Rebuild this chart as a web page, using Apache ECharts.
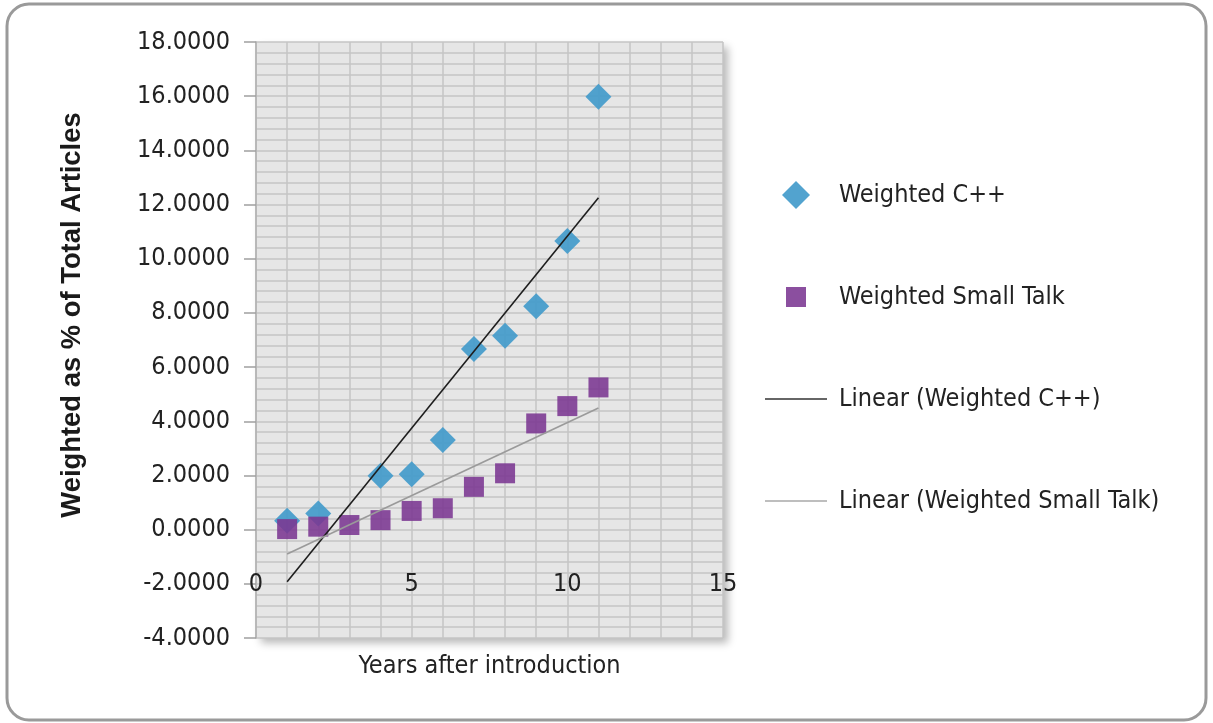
<!DOCTYPE html>
<html>
<head>
<meta charset="utf-8">
<script src="https://cdn.jsdelivr.net/npm/echarts@6/dist/echarts.min.js"></script>
<style>
  html, body { margin: 0; padding: 0; background: #ffffff; }
  #chart { width: 1213px; height: 723px; }
</style>
</head>
<body>
<div id="chart"></div>
<script>
// Years after each language's introduction
const cppYears = [1, 2, 4, 5, 6, 7, 8, 9, 10, 11];
const cppValues = [0.33, 0.60, 1.99, 2.04, 3.31, 6.67, 7.16, 8.25, 10.65, 15.98];

const smallTalkYears = [1, 2, 3, 4, 5, 6, 7, 8, 9, 10, 11];
const smallTalkValues = [0.02, 0.11, 0.17, 0.35, 0.69, 0.79, 1.58, 2.08, 3.92, 4.56, 5.25];

// Linear trendline end points (first and last year)
const trendYears = [1, 11];
const cppTrend = [-1.92, 12.25];
const smallTalkTrend = [-0.90, 4.49];

const seriesNames = ['Weighted C++', 'Weighted Small Talk', 'Linear (Weighted C++)', 'Linear (Weighted Small Talk)'];

const pairs = (xs, ys) => xs.map((x, i) => [x, ys[i]]);

const FONT = '"DejaVu Sans Condensed", "DejaVu Sans", Verdana, sans-serif';
const FONT_SIZE = 25;
const TEXT = '#222222';
const GRID_LINE = '#c5c5c5';

// Legend glyphs: square and diamond centred in a 28px box, thin bar for trendlines
const ICON_DIAMOND = 'path://M14,0L28,14L14,28L0,14Z';
const ICON_SQUARE = 'path://M0,0M28,28M4,4L24,4L24,24L4,24Z';
const ICON_LINE = 'path://M0,0L62,0L62,1.6L0,1.6Z';

const chart = echarts.init(document.getElementById('chart'), null, { renderer: 'canvas' });

chart.setOption({
  backgroundColor: '#ffffff',
  animation: false,
  graphic: [
    {
      type: 'rect',
      shape: { x: 7, y: 4, width: 1199, height: 716, r: 22 },
      style: { fill: 'none', stroke: '#9a9a9a', lineWidth: 3 },
      z: 0
    },
    {
      type: 'text',
      x: 72,
      y: 315,
      rotation: Math.PI / 2,
      style: {
        text: 'Weighted as % of Total Articles',
        fontFamily: 'Liberation Sans, Arial, sans-serif',
        fontWeight: 'bold',
        fontSize: 27.4,
        fill: '#1a1a1a',
        align: 'center',
        verticalAlign: 'middle'
      }
    }
  ],
  grid: {
    left: 256,
    top: 42,
    width: 467,
    height: 596,
    show: true,
    backgroundColor: '#e6e6e6',
    borderWidth: 0,
    shadowColor: 'rgba(0,0,0,0.28)',
    shadowBlur: 8,
    shadowOffsetX: 5,
    shadowOffsetY: 5
  },
  legend: {
    orient: 'vertical',
    left: 765,
    top: 181,
    padding: 0,
    itemWidth: 62,
    itemHeight: 28,
    itemGap: 74,
    selectedMode: false,
    textStyle: {
      fontFamily: FONT,
      fontSize: FONT_SIZE,
      color: TEXT,
      lineHeight: 28,
      padding: [0, 0, 0, 7]
    },
    data: [
      { name: seriesNames[0], icon: ICON_DIAMOND },
      { name: seriesNames[1], icon: ICON_SQUARE },
      { name: seriesNames[2], icon: ICON_LINE },
      { name: seriesNames[3], icon: ICON_LINE }
    ]
  },
  xAxis: {
    type: 'value',
    min: 0,
    max: 15,
    interval: 5,
    offset: -54,
    name: 'Years after introduction',
    nameLocation: 'middle',
    nameGap: 70,
    nameTextStyle: { fontFamily: FONT, fontSize: FONT_SIZE, color: TEXT },
    axisLine: { show: false },
    axisTick: { show: false },
    axisLabel: {
      fontFamily: FONT,
      fontSize: FONT_SIZE,
      color: TEXT,
      margin: 0,
      verticalAlign: 'middle'
    },
    splitLine: { show: true, lineStyle: { color: GRID_LINE, width: 1.5 } },
    minorTick: { show: false, splitNumber: 5 },
    minorSplitLine: { show: true, lineStyle: { color: GRID_LINE, width: 1.5 } }
  },
  yAxis: {
    type: 'value',
    min: -4,
    max: 18,
    interval: 2,
    axisLine: { show: true, onZero: false, lineStyle: { color: '#b0b0b0', width: 1.5 } },
    axisTick: { show: true, inside: false, length: 12, lineStyle: { color: '#a0a0a0', width: 1.5 } },
    axisLabel: {
      fontFamily: FONT,
      fontSize: FONT_SIZE,
      color: TEXT,
      margin: 26,
      formatter: v => v.toFixed(4)
    },
    splitLine: { show: true, lineStyle: { color: GRID_LINE, width: 1.5 } },
    minorTick: { show: false, splitNumber: 5 },
    minorSplitLine: { show: true, lineStyle: { color: GRID_LINE, width: 1.5 } }
  },
  series: [
    {
      name: seriesNames[0],
      type: 'scatter',
      symbol: 'diamond',
      symbolSize: 26,
      itemStyle: { color: '#439bcb', opacity: 0.92 },
      data: pairs(cppYears, cppValues),
      z: 2
    },
    {
      name: seriesNames[1],
      type: 'scatter',
      symbol: 'rect',
      symbolSize: 20,
      itemStyle: { color: '#7b3792', opacity: 0.88 },
      data: pairs(smallTalkYears, smallTalkValues),
      z: 3
    },
    {
      name: seriesNames[2],
      type: 'line',
      symbol: 'none',
      lineStyle: { color: '#1e1e1e', width: 1.6 },
      itemStyle: { color: '#333333' },
      data: pairs(trendYears, cppTrend),
      z: 4
    },
    {
      name: seriesNames[3],
      type: 'line',
      symbol: 'none',
      lineStyle: { color: '#9a9a9a', width: 1.6 },
      itemStyle: { color: '#a8a8a8' },
      data: pairs(trendYears, smallTalkTrend),
      z: 4
    }
  ]
});
</script>
</body>
</html>
